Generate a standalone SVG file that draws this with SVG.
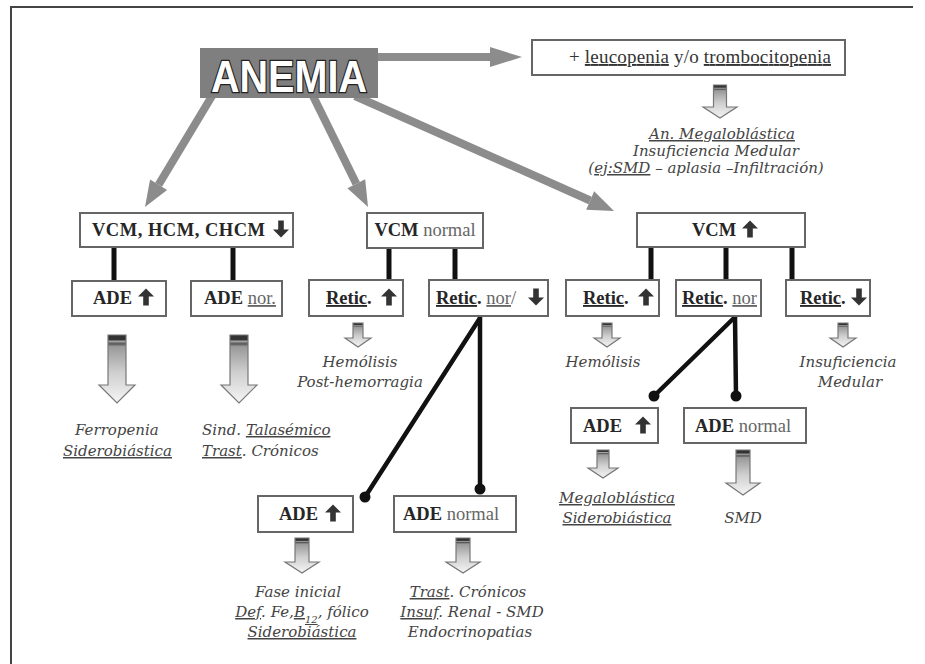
<svg xmlns="http://www.w3.org/2000/svg" width="925" height="664" viewBox="0 0 925 664">
<style>
.box{fill:#fff;stroke:#666;stroke-width:2}
.lbl{font-family:"Liberation Serif",serif;font-size:18.5px;font-weight:bold;fill:#262626}
.reg{font-weight:normal;fill:#666}
.it{font-family:"DejaVu Serif",serif;font-style:italic;font-size:15px;fill:#444;text-anchor:middle}
.u{text-decoration:underline}
.gl{stroke:#8c8c8c;stroke-width:8;fill:none}
.gh{fill:#8c8c8c}
.bl{stroke:#111;stroke-width:5;fill:none}
.dl{stroke:#111;stroke-width:4.5;fill:none;stroke-linecap:round}
.dot{fill:#111}
.ba{fill:url(#bg);stroke:#777;stroke-width:1.2}
.ic{fill:#333}
</style>
<defs>
<linearGradient id="bg" x1="0" y1="0" x2="0" y2="1">
<stop offset="0" stop-color="#333"/>
<stop offset="0.07" stop-color="#333"/>
<stop offset="0.09" stop-color="#aaa"/>
<stop offset="0.13" stop-color="#555"/>
<stop offset="0.17" stop-color="#999"/>
<stop offset="0.55" stop-color="#cfcfcf"/>
<stop offset="1" stop-color="#f5f5f5"/>
</linearGradient>
<path id="up" d="M0,-8.5 L8,-0.5 L2.8,-0.5 L2.8,8.5 L-2.8,8.5 L-2.8,-0.5 L-8,-0.5 Z"/>
<path id="dn" d="M0,8.5 L8,0.5 L2.8,0.5 L2.8,-8.5 L-2.8,-8.5 L-2.8,0.5 L-8,0.5 Z"/>
</defs>
<rect width="925" height="664" fill="#fff"/>
<path d="M11,664 V7 H913" fill="none" stroke="#444" stroke-width="2"/>

<g id="connectors">
<line class="gl" x1="378" y1="57" x2="492" y2="57"/>
<polygon class="gh" points="490,47 522,57 490,67"/>
<line class="gl" x1="212" y1="96" x2="158.6" y2="184.8"/>
<polygon class="gh" points="167.1,190 145,207 150.1,179.6"/>
<line class="gl" x1="313" y1="96" x2="356.3" y2="183.8"/>
<polygon class="gh" points="365.2,179.3 368,207 347.4,188.3"/>
<line class="gl" x1="355" y1="96" x2="590.2" y2="200.5"/>
<polygon class="gh" points="586.2,209.7 614,211 594.2,191.3"/>
<line class="bl" x1="114" y1="247" x2="114" y2="281"/>
<line class="bl" x1="233" y1="247" x2="233" y2="281"/>
<line class="bl" x1="389" y1="248" x2="389" y2="280"/>
<line class="bl" x1="455" y1="248" x2="455" y2="280"/>
<line class="bl" x1="651" y1="247" x2="651" y2="280"/>
<line class="bl" x1="726" y1="247" x2="726" y2="280"/>
<line class="bl" x1="792" y1="247" x2="792" y2="280"/>
<line class="dl" x1="480" y1="318" x2="365" y2="497"/>
<line class="dl" x1="480" y1="318" x2="480" y2="489"/>
<circle class="dot" cx="365" cy="497" r="5.5"/>
<circle class="dot" cx="480" cy="489" r="5.5"/>
<line class="dl" x1="735" y1="317" x2="654" y2="396"/>
<line class="dl" x1="735" y1="317" x2="736" y2="396"/>
<circle class="dot" cx="654" cy="396" r="5.5"/>
<circle class="dot" cx="736" cy="396" r="5.5"/>
<path class="ba" d="M108,335 H126 V385 H135 L117,403 L99,385 H108 Z"/>
<path class="ba" d="M230,335 H248 V385 H257 L239,403 L221,385 H230 Z"/>
<path class="ba" d="M713.5,85 H726.5 V107 H737 L720,118 L703,107 H713.5 Z"/>
<path class="ba" d="M353,323 H363 V338 H371 L358,347 L345,338 H353 Z"/>
<path class="ba" d="M602,323 H612 V338 H620 L607,347 L594,338 H602 Z"/>
<path class="ba" d="M838,323 H848 V338 H856 L843,347 L830,338 H838 Z"/>
<path class="ba" d="M597,450 H609 V468 H618 L603,478 L588,468 H597 Z"/>
<path class="ba" d="M736,450 H750 V483 H760 L743,495 L726,483 H736 Z"/>
<path class="ba" d="M295,538 H309 V562 H319 L302,573 L285,562 H295 Z"/>
<path class="ba" d="M456,538 H470 V562 H480 L463,573 L446,562 H456 Z"/>
</g>

<g id="anemia">
<rect x="200" y="48" width="178" height="50" fill="#7f7f7f"/>
<text x="289" y="92" text-anchor="middle" font-family="Liberation Sans, Arial, sans-serif" font-weight="bold" font-size="44" fill="#fff" stroke="#222" stroke-width="2.5" paint-order="stroke" textLength="156" lengthAdjust="spacingAndGlyphs">ANEMIA</text>
</g>

<g id="leuco">
<rect class="box" x="532" y="40" width="313" height="35"/>
<text x="700" y="63" text-anchor="middle" font-family="Liberation Serif, serif" font-size="19" fill="#333" textLength="262">+ <tspan class="u">leucopenia</tspan> y/o <tspan class="u">trombocitopenia</tspan></text>
</g>
<g id="leuco-result">
<text class="it" font-size="13.5" x="722" y="139"><tspan class="u">An. Megaloblástica</tspan></text>
<text class="it" font-size="13.5" x="716" y="156">Insuficiencia Medular</text>
<text class="it" font-size="13.5" x="706" y="173">(<tspan class="u">ej:SMD</tspan> – aplasia –Infiltración)</text>
</g>

<g id="vcm-low">
<rect class="box" x="80" y="213" width="213" height="34"/>
<text class="lbl" x="92" y="236" textLength="173">VCM, HCM, CHCM</text>
<use href="#dn" class="ic" x="281" y="229"/>
</g>
<g id="ade-up-1">
<rect class="box" x="72" y="281" width="94" height="35"/>
<text class="lbl" x="93" y="304">ADE</text>
<use href="#up" class="ic" x="146" y="297"/>
</g>
<g id="ade-nor-1">
<rect class="box" x="191" y="281" width="91" height="35"/>
<text class="lbl" x="204" y="304">ADE <tspan class="reg u">nor.</tspan></text>
</g>
<g id="ferro">
<text class="it" x="75" y="435" style="text-anchor:start">Ferropenia</text>
<text class="it" x="63" y="456" style="text-anchor:start"><tspan class="u">Siderobiástica</tspan></text>
</g>
<g id="tala">
<text class="it" x="202" y="435" style="text-anchor:start">Sind. <tspan class="u">Talasémico</tspan></text>
<text class="it" x="202" y="456" style="text-anchor:start"><tspan class="u">Trast</tspan>. Crónicos</text>
</g>

<g id="vcm-normal">
<rect class="box" x="367" y="213" width="116" height="35"/>
<text class="lbl" x="425" y="236" text-anchor="middle">VCM <tspan class="reg">normal</tspan></text>
</g>
<g id="retic-up-1">
<rect class="box" x="309" y="280" width="94" height="36"/>
<text class="lbl" x="326" y="304"><tspan class="u">Retic</tspan>.</text>
<use href="#up" class="ic" x="389" y="297"/>
</g>
<g id="retic-nor-1">
<rect class="box" x="429" y="280" width="119" height="36"/>
<text class="lbl" x="436" y="304"><tspan class="u">Retic</tspan>. <tspan class="reg u">nor</tspan><tspan class="reg">/</tspan></text>
<use href="#dn" class="ic" x="536" y="297"/>
</g>
<g id="hemo-1">
<text class="it" x="360" y="367">Hemólisis</text>
<text class="it" x="360" y="387">Post-hemorragia</text>
</g>
<g id="ade-up-2">
<rect class="box" x="258" y="496" width="95" height="36"/>
<text class="lbl" x="279" y="520">ADE</text>
<use href="#up" class="ic" x="333" y="513"/>
</g>
<g id="ade-normal-2">
<rect class="box" x="394" y="496" width="122" height="36"/>
<text class="lbl" x="403" y="520">ADE <tspan class="reg">normal</tspan></text>
</g>
<g id="fase">
<text class="it" x="298" y="597">Fase inicial</text>
<text class="it" x="302" y="617"><tspan class="u">Def</tspan>. Fe,<tspan class="u">B<tspan font-size="10" baseline-shift="sub">12</tspan></tspan>, fólico</text>
<text class="it" x="302" y="637"><tspan class="u">Siderobiástica</tspan></text>
</g>
<g id="trast">
<text class="it" x="468" y="597"><tspan class="u">Trast</tspan>. Crónicos</text>
<text class="it" x="472" y="617"><tspan class="u">Insuf</tspan>. Renal - SMD</text>
<text class="it" x="470" y="637">Endocrinopatias</text>
</g>

<g id="vcm-up">
<rect class="box" x="637" y="213" width="168" height="34"/>
<text class="lbl" x="692" y="236">VCM</text>
<use href="#up" class="ic" x="750" y="229"/>
</g>
<g id="retic-up-2">
<rect class="box" x="566" y="280" width="93" height="36"/>
<text class="lbl" x="583" y="304"><tspan class="u">Retic</tspan>.</text>
<use href="#up" class="ic" x="646" y="297"/>
</g>
<g id="retic-nor-2">
<rect class="box" x="676" y="280" width="85" height="36"/>
<text class="lbl" x="682" y="304"><tspan class="u">Retic</tspan>. <tspan class="reg u">nor</tspan></text>
</g>
<g id="retic-down-2">
<rect class="box" x="786" y="280" width="84" height="36"/>
<text class="lbl" x="800" y="304"><tspan class="u">Retic</tspan>.</text>
<use href="#dn" class="ic" x="859" y="297"/>
</g>
<g id="hemo-2">
<text class="it" x="603" y="367">Hemólisis</text>
</g>
<g id="insuf">
<text class="it" x="848" y="367">Insuficiencia</text>
<text class="it" x="850" y="387">Medular</text>
</g>
<g id="ade-up-3">
<rect class="box" x="571" y="408" width="87" height="35"/>
<text class="lbl" x="583" y="432">ADE</text>
<use href="#up" class="ic" x="643" y="425"/>
</g>
<g id="ade-normal-3">
<rect class="box" x="684" y="408" width="122" height="35"/>
<text class="lbl" x="695" y="432">ADE <tspan class="reg">normal</tspan></text>
</g>
<g id="megalo">
<text class="it" x="617" y="503"><tspan class="u">Megaloblástica</tspan></text>
<text class="it" x="617" y="523"><tspan class="u">Siderobiástica</tspan></text>
</g>
<g id="smd">
<text class="it" x="743" y="523">SMD</text>
</g>
</svg>
